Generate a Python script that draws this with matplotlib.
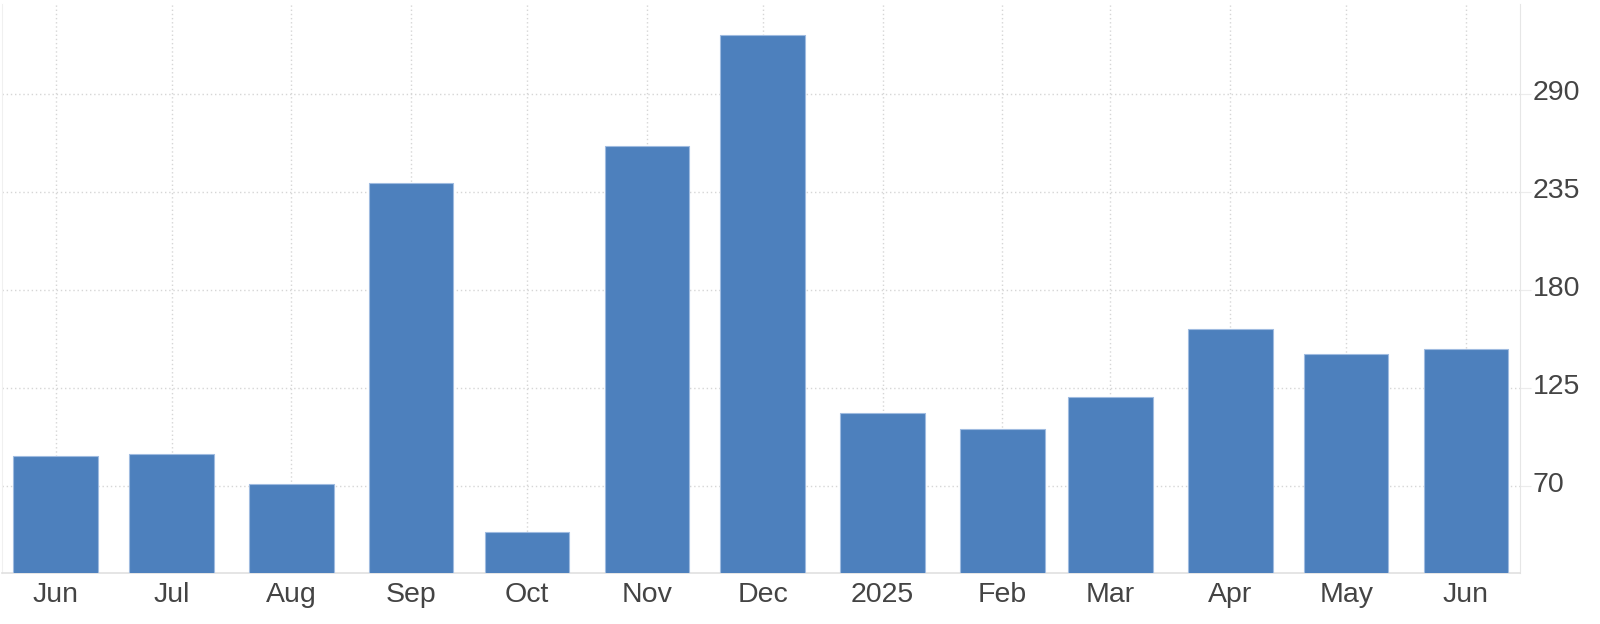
import pandas as pd
import matplotlib
matplotlib.use("Agg")
import matplotlib.pyplot as plt
import matplotlib.transforms as mtransforms

# ============================================================================
months = ['2024-06-01', '2024-07-01', '2024-08-01', '2024-09-01', '2024-10-01',
          '2024-11-01', '2024-12-01', '2025-01-01', '2025-02-01', '2025-03-01',
          '2025-04-01', '2025-05-01', '2025-06-01']
values = [87, 88, 71, 240, 44, 261, 323, 111, 102, 120, 158, 144, 147]
tick_labels = ['Jun', 'Jul', 'Aug', 'Sep', 'Oct', 'Nov', 'Dec', '2025',
               'Feb', 'Mar', 'Apr', 'May', 'Jun']
y_ticks = [70, 125, 180, 235, 290]
# ============================================================================

plt.rcParams['font.family'] = ['Liberation Sans', 'DejaVu Sans']

dates = pd.to_datetime(months)

fig = plt.figure(figsize=(16, 6.24), dpi=100)
ax = fig.add_axes([0.001, 0.0812, 0.949, 0.9124])

ax.bar(dates, values, width=21.9, color='#4d80bd', edgecolor='#9fbbe0',
       linewidth=0.8, zorder=3)

ax.set_xlim(pd.Timestamp('2024-05-18'), pd.Timestamp('2025-06-15'))
ax.set_ylim(21, 340.5)

ax.set_xticks(dates)
ax.set_xticklabels(tick_labels)
ax.set_yticks(y_ticks)

ax.yaxis.tick_right()
ax.tick_params(axis='y', length=8, color='#ececec', labelsize=20.5,
               labelcolor='#444444', pad=1)
ax.tick_params(axis='x', length=0, labelsize=20.5, labelcolor='#444444', pad=6)

# nudge the y labels up a bit, they sit above the grid lines in the original
shift = mtransforms.ScaledTranslation(0, 4 / 100, fig.dpi_scale_trans)
for lbl in ax.get_yticklabels():
    lbl.set_transform(lbl.get_transform() + shift)

ax.grid(True, linestyle=(0, (1, 2)), color='#d6d6d6', linewidth=1, zorder=0)

ax.spines['top'].set_visible(False)
ax.spines['left'].set_color('#f0f0f0')
ax.spines['right'].set_color('#e6e6e6')
ax.spines['bottom'].set_color('#e0e0e0')
ax.spines['bottom'].set_linewidth(1.2)

plt.savefig('out.png', dpi=100)
